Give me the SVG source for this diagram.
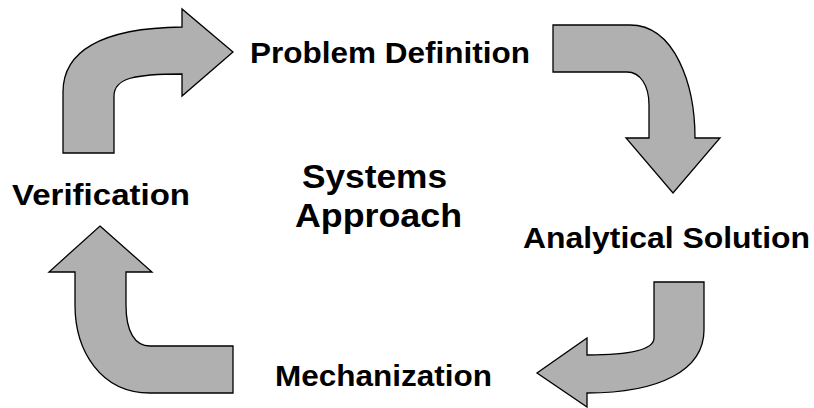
<svg xmlns="http://www.w3.org/2000/svg" width="814" height="408" viewBox="0 0 814 408">
<style>
.arrow{fill:#b0b0b0;stroke:#000;stroke-width:1.3;stroke-linejoin:miter}
.lbl{font-family:"Liberation Sans",Arial,sans-serif;font-weight:bold;font-size:29px;fill:#000}
.big{font-family:"Liberation Sans",Arial,sans-serif;font-weight:bold;font-size:34px;fill:#000}
</style>
<rect width="814" height="408" fill="#fff"/>
<g id="connectors">
<path id="arrow-verif-to-problem" class="arrow" d="M63,153 L63,92 C63,52 100,28 182,27 L182,9 L233,52 L182,96 L182,74 C135,74 114,78 114,96 L114,153 Z"/>
<path id="arrow-problem-to-analytical" class="arrow" d="M553,25 L630,25 C675,25 695,85 695,138 L720,138 L673,193 L626,138 L649,138 L649,105 C649,85 640,72 627,72 L553,72 Z"/>
<path id="arrow-analytical-to-mech" class="arrow" d="M654,282 L704,282 L704,330 C704,370 660,393 587,393 L587,407 L537,373 L587,338 L587,355 C630,355 654,350 654,338 Z"/>
<path id="arrow-mech-to-verif" class="arrow" d="M100,226 L152,272 L126,272 L126,305 C126,332 135,346 150,346 L233,346 L233,393 L150,393 C100,393 75,350 75,305 L75,272 L49,272 Z"/>
</g>
<g id="node-problem"><text class="lbl" x="250" y="63" textLength="280" lengthAdjust="spacingAndGlyphs">Problem Definition</text></g>
<g id="node-analytical"><text class="lbl" x="523" y="248" textLength="287" lengthAdjust="spacingAndGlyphs">Analytical Solution</text></g>
<g id="node-mechanization"><text class="lbl" x="275" y="386" textLength="217" lengthAdjust="spacingAndGlyphs">Mechanization</text></g>
<g id="node-verification"><text class="lbl" x="12" y="205" textLength="178" lengthAdjust="spacingAndGlyphs">Verification</text></g>
<g id="node-center">
<text class="big" x="302" y="188" textLength="145" lengthAdjust="spacingAndGlyphs">Systems</text>
<text class="big" x="295" y="227" textLength="167" lengthAdjust="spacingAndGlyphs">Approach</text>
</g>
</svg>
